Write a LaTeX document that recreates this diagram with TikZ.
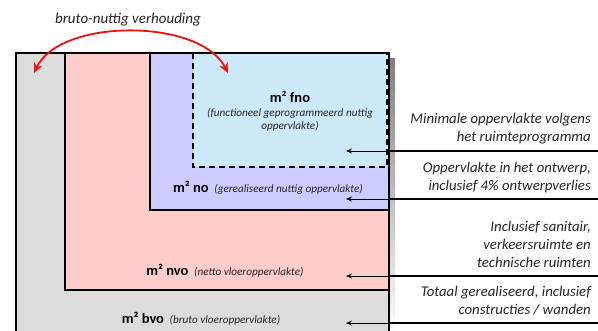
\documentclass[tikz,border=0pt]{standalone}
\usepackage{fontspec}
\setmainfont{Carlito}
\usetikzlibrary{arrows.meta}
\definecolor{bvo}{HTML}{DCDCDC}
\definecolor{nvo}{HTML}{FFCCCC}
\definecolor{nuo}{HTML}{CCCCFF}
\definecolor{fno}{HTML}{CCE9FA}
\definecolor{shade}{HTML}{B4B4B4}
\definecolor{txt}{HTML}{262626}
\definecolor{redarc}{HTML}{F01010}
\newcommand{\subfont}{\fontsize{11.2}{13}\selectfont\itshape\color{txt}}
\tikzset{
  zone/.style={draw=black, line width=1.6pt},
  desc/.style={anchor=east, align=right, font=\fontsize{14.8}{18}\selectfont\itshape, text=txt, inner sep=0pt},
  lbl/.style={font=\fontsize{14.5}{16}\selectfont\bfseries, text=black, inner sep=0pt},
  sub/.style={font=\subfont, text=txt},
  sepline/.style={line width=1.6pt, black},
  ptr/.style={line width=1pt, black, -{Stealth[length=6pt,width=5pt]}},
}
\begin{document}
\begin{tikzpicture}[x=1pt,y=-1pt]
\useasboundingbox (0,0) rectangle (598,330);
% shadow
\fill[shade] (389,58) rectangle (395,335);
% zones
\fill[bvo] (16,53) rectangle (389,340);
\fill[nvo] (65,53) rectangle (389,290);
\draw[zone] (65,53) -- (65,290) -- (389,290);
\fill[nuo] (150,53) rectangle (389,210);
\draw[zone] (150,53) -- (150,210) -- (389,210);
\fill[fno] (193,53) rectangle (389,167);
\draw[line width=1.6pt, dash pattern=on 6pt off 4pt] (193,53) -- (193,167) -- (387,167) -- (387,53);
\draw[line width=1.8pt] (16,340) -- (16,53) -- (389,53) -- (389,340);
% separator lines on the right
\draw[sepline] (389,151) -- (598,151);
\draw[sepline] (389,199) -- (598,199);
\draw[sepline] (389,276) -- (598,276);
\draw[sepline] (389,323) -- (598,323);
% pointer arrows
\coordinate (s1) at (389,151); \coordinate (t1) at (346,151);
\coordinate (s2) at (389,199); \coordinate (t2) at (346,199);
\coordinate (s3) at (389,276); \coordinate (t3) at (346,276);
\coordinate (s4) at (389,323); \coordinate (t4) at (346,323);
\draw[ptr] (s1) -- (t1);
\draw[ptr] (s2) -- (t2);
\draw[ptr] (s3) -- (t3);
\draw[ptr] (s4) -- (t4);
% descriptions
\node[desc] (d1) at (591,129) {Minimale oppervlakte volgens\\het ruimteprogramma};
\node[desc] (d2) at (591,177.5) {Oppervlakte in het ontwerp,\\inclusief 4\% ontwerpverlies};
\node[desc] (d3) at (591,244.5) {Inclusief sanitair,\\verkeersruimte en\\technische ruimten};
\node[desc] (d4) at (591,301) {Totaal gerealiseerd, inclusief\\constructies / wanden};
% labels
\node[lbl] (lfno) at (290,97) {m² fno};
\node[sub, align=center, inner sep=0pt] (sfno) at (290,120) {(functioneel geprogrammeerd nuttig\\oppervlakte)};
\node[lbl] (lno) at (268,188) {m² no \,{\subfont\mdseries (gerealiseerd nuttig oppervlakte)}};
\node[lbl] (lnvo) at (225,271) {m² nvo \,{\subfont\mdseries (netto vloeroppervlakte)}};
\node[lbl] (lbvo) at (201,319) {m² bvo \,{\subfont\mdseries (bruto vloeroppervlakte)}};
% ratio
\node[font=\fontsize{15}{17}\selectfont\itshape, text=txt] (ratio) at (128,20) {bruto-nuttig verhouding};
\coordinate (ra) at (34,73);
\coordinate (rb) at (228,73);
\draw[redarc, line width=1.8pt, {Stealth[length=10pt,width=9pt]}-{Stealth[length=10pt,width=9pt]}] (ra) .. controls (60,18) and (200,18) .. (rb);
\end{tikzpicture}
\end{document}
